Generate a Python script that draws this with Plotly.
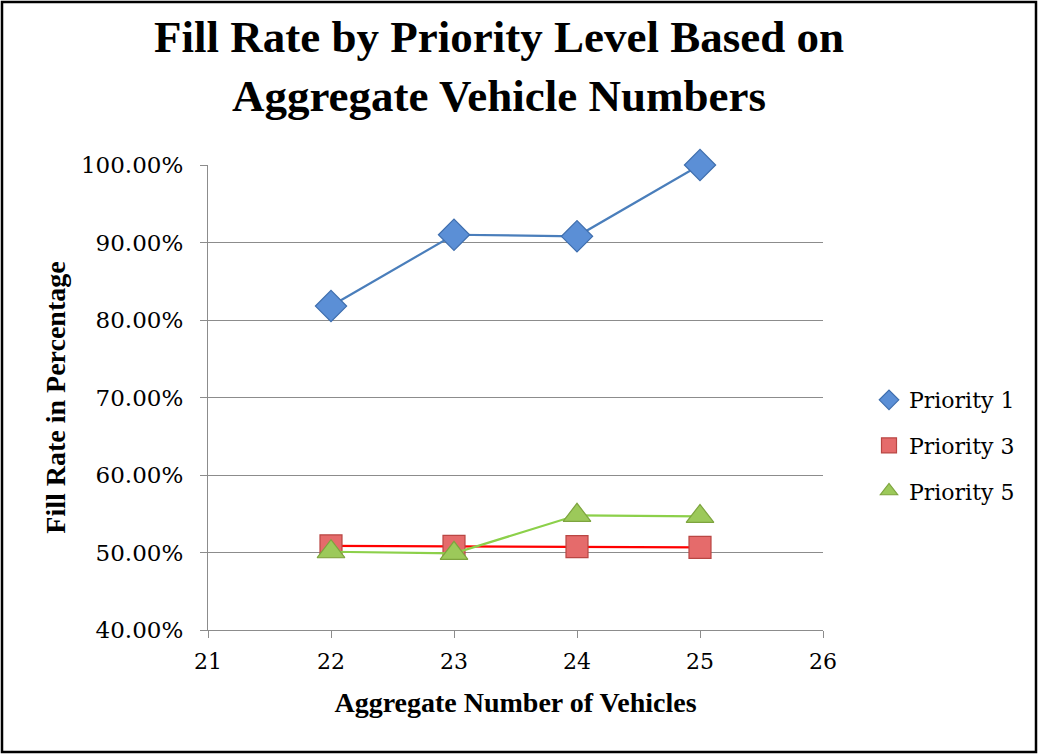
import plotly.graph_objects as go

vehicles = [22, 23, 24, 25]
priority1 = [81.8, 91.0, 90.8, 100.0]
priority3 = [50.85, 50.8, 50.75, 50.65]
priority5 = [50.1, 49.9, 54.8, 54.65]
series_names = ["Priority 1", "Priority 3", "Priority 5"]
x_ticks = [21, 22, 23, 24, 25, 26]
y_ticks = [40, 50, 60, 70, 80, 90, 100]
y_tick_text = ["%.2f%%" % v for v in y_ticks]

W, H = 1039, 754
L, R, T, B = 208, 823, 165, 630
pw, ph = R - L, B - T


def px(x):
    return (x - L) / pw


def py(y):
    return (B - y) / ph


tick_font = dict(family="DejaVu Serif", size=23, color="#000000")

styles = [
    dict(line=dict(color="#4A7EBB", width=2.2),
         marker=dict(symbol="diamond", size=24, color="#5B8FD6",
                     line=dict(color="#3E6EAE", width=1.2))),
    dict(line=dict(color="#FF0000", width=2.2),
         marker=dict(symbol="square", size=22, color="#E56B6B",
                     line=dict(color="#B94643", width=1.2))),
    dict(line=dict(color="#8CD04A", width=2.2),
         marker=dict(symbol="triangle-up", size=24, color="#9CC95A",
                     line=dict(color="#7DA43E", width=1.2))),
]
series = [priority1, priority3, priority5]

fig = go.Figure()
for name, vals, st in zip(series_names, series, styles):
    fig.add_trace(go.Scatter(
        x=vehicles, y=vals, name=name, mode="lines+markers",
        line=st["line"], marker=st["marker"], showlegend=False,
        cliponaxis=False,
    ))
for i, (name, st) in enumerate(zip(series_names, styles)):
    m = dict(st["marker"])
    m["size"] = 15
    fig.add_trace(go.Scatter(
        x=[None], y=[None], name=name, mode="markers", marker=m,
        legendgroup="g%d" % i, showlegend=True,
    ))

fig.update_layout(
    width=W, height=H,
    margin=dict(l=L, r=W - R, t=T, b=H - B, pad=0),
    paper_bgcolor="white", plot_bgcolor="white",
    title=dict(
        text="Fill Rate by Priority Level Based on<br>Aggregate Vehicle Numbers",
        font=dict(family="Liberation Serif", size=45, color="#000000", weight="bold"),
        x=499 / W, xanchor="center", y=1 - 52 / H, yanchor="middle",
    ),
    xaxis=dict(
        range=[21, 26], tickvals=x_ticks, showgrid=False,
        showline=True, linecolor="#8C8C8C", linewidth=1.2,
        ticks="outside", ticklen=7, tickcolor="#8C8C8C",
        tickfont=dict(family="DejaVu Serif", size=22, color="#000000"),
        ticklabelstandoff=4, zeroline=False,
        title=dict(text="<b>Aggregate Number of Vehicles</b>",
                   font=dict(family="Liberation Serif", size=28, color="#000000"),
                   standoff=19),
    ),
    yaxis=dict(
        range=[40, 100], tickvals=y_ticks, ticktext=y_tick_text,
        showgrid=True, gridcolor="#8C8C8C", gridwidth=1.2,
        showline=True, linecolor="#8C8C8C", linewidth=1.2,
        ticks="outside", ticklen=7, tickcolor="#8C8C8C",
        tickfont=tick_font, ticklabelstandoff=12, zeroline=False,
        title=dict(text="<b>Fill Rate in Percentage</b>",
                   font=dict(family="Liberation Serif", size=28, color="#000000"),
                   standoff=7),
    ),
    legend=dict(
        x=px(869), y=py(379), xanchor="left", yanchor="top",
        font=dict(family="DejaVu Serif", size=22, color="#000000"),
        tracegroupgap=14, itemwidth=30, bgcolor="rgba(0,0,0,0)",
    ),
    showlegend=True,
)

fig.add_shape(
    type="rect", xref="paper", yref="paper",
    x0=px(2), x1=px(1036), y0=py(752), y1=py(2),
    line=dict(color="#000000", width=2.5), fillcolor="rgba(0,0,0,0)",
    layer="above",
)

fig.write_html(
    "out.html",
    config={"displayModeBar": False},
    post_script="document.body.style.margin='0';document.body.style.overflow='hidden';",
)
